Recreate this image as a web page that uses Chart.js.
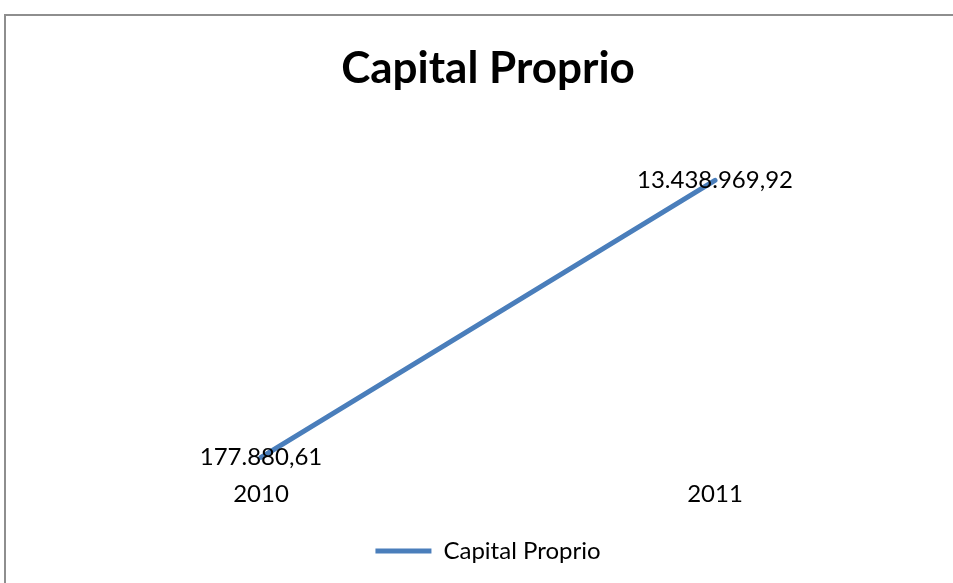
<!DOCTYPE html>
<html>
<head>
<meta charset="utf-8">
<script src="https://cdn.jsdelivr.net/npm/chart.js@4/dist/chart.umd.min.js"></script>
<style>
  html, body { margin: 0; padding: 0; background: #fff; }
  body { width: 953px; height: 583px; position: relative; overflow: hidden; }
  #c { position: absolute; left: 0; top: 0; }
</style>
</head>
<body>
<canvas id="c" width="953" height="583"></canvas>
<script>
const categories = ['2010', '2011'];
const seriesName = 'Capital Proprio';
const capitalProprio = [177880.61, 13438969.92];
const chartTitle = 'Capital Proprio';

function fmtPt(v) {
  const parts = v.toFixed(2).split('.');
  const intPart = parts[0].replace(/\B(?=(\d{3})+(?!\d))/g, '.');
  return intPart + ',' + parts[1];
}

const FONT = 'Lato, "Open Sans", sans-serif';
const lineColor = '#4a7ebb';

const framePlugin = {
  id: 'frame',
  beforeDraw(chart) {
    const ctx = chart.ctx;
    ctx.save();
    ctx.fillStyle = '#fff';
    ctx.fillRect(0, 0, chart.width, chart.height);
    ctx.strokeStyle = '#8e8e8e';
    ctx.lineWidth = 2;
    ctx.beginPath();
    ctx.moveTo(5, chart.height + 5);
    ctx.lineTo(5, 15);
    ctx.lineTo(chart.width + 5, 15);
    ctx.stroke();
    ctx.restore();
  }
};

const dataLabelPlugin = {
  id: 'dataLabels',
  afterDatasetsDraw(chart) {
    const ctx = chart.ctx;
    const meta = chart.getDatasetMeta(0);
    ctx.save();
    ctx.font = '24px ' + FONT;
    ctx.fillStyle = '#000';
    ctx.textAlign = 'center';
    ctx.textBaseline = 'middle';
    meta.data.forEach((pt, i) => {
      ctx.fillText(fmtPt(chart.data.datasets[0].data[i]), pt.x, pt.y);
    });
    ctx.restore();
  }
};

Chart.defaults.color = '#000';
Chart.defaults.font.family = FONT;

new Chart(document.getElementById('c'), {
  type: 'line',
  data: {
    labels: categories,
    datasets: [{
      label: seriesName,
      data: capitalProprio,
      borderColor: lineColor,
      backgroundColor: lineColor,
      borderWidth: 5,
      borderCapStyle: 'round',
      pointRadius: 0,
      pointHoverRadius: 0,
      tension: 0,
      fill: false
    }]
  },
  options: {
    responsive: false,
    animation: false,
    events: [],
    layout: { padding: { left: 34, right: 11, top: 0, bottom: 10 } },
    scales: {
      x: {
        offset: true,
        grid: { display: false, drawTicks: false },
        border: { display: false },
        ticks: { font: { size: 24 }, padding: 19, color: '#000' },
        afterFit(scale) { scale.height = 68; }
      },
      y: {
        display: false,
        min: 0,
        max: 16000000
      }
    },
    plugins: {
      title: {
        display: true,
        text: chartTitle,
        font: { size: 44, weight: 'bold' },
        color: '#000',
        padding: { top: 42, bottom: 32 }
      },
      legend: {
        display: true,
        position: 'bottom',
        labels: {
          font: { size: 24 },
          color: '#000',
          padding: 10,
          usePointStyle: true,
          pointStyle: 'line',
          pointStyleWidth: 56
        }
      },
      tooltip: { enabled: false }
    }
  },
  plugins: [framePlugin, dataLabelPlugin]
});
</script>
</body>
</html>
